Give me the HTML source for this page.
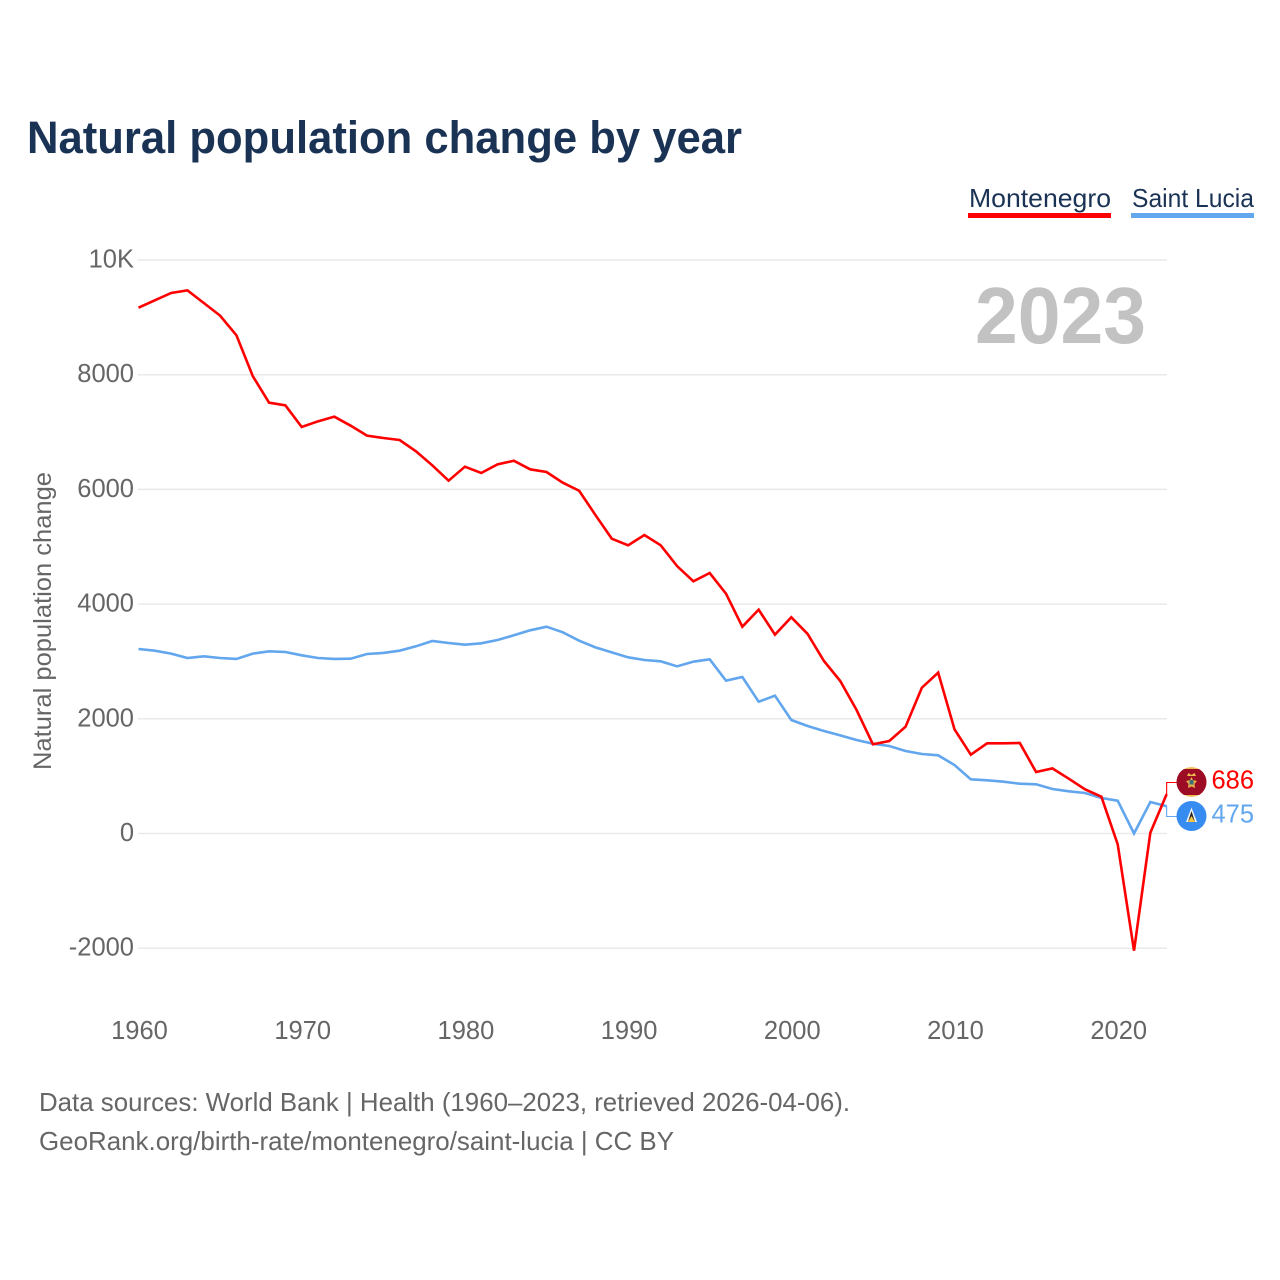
<!DOCTYPE html>
<html lang="en">
<head>
<meta charset="utf-8">
<title>Natural population change by year</title>
<style>
html,body{margin:0;padding:0;background:#fff;}
svg{display:block;font-family:"Liberation Sans",sans-serif;}
</style>
</head>
<body>
<svg id="chart" xmlns="http://www.w3.org/2000/svg" width="1280" height="1280" viewBox="0 0 1280 1280">
  <rect x="0" y="0" width="1280" height="1280" fill="#ffffff"/>
  <text x="27" y="153" font-size="45" font-weight="700" fill="#1a3355" textLength="715" lengthAdjust="spacingAndGlyphs">Natural population change by year</text>

  <g>
    <text x="969" y="207" font-size="26" fill="#1a3355" textLength="142" lengthAdjust="spacingAndGlyphs">Montenegro</text>
    <rect x="968" y="213" width="143" height="5" fill="#ff0000"/>
  </g>
  <g>
    <text x="1132" y="207" font-size="26" fill="#1a3355" textLength="122" lengthAdjust="spacingAndGlyphs">Saint Lucia</text>
    <rect x="1131" y="213" width="123" height="5" fill="#62a6ee"/>
  </g>

  <g id="grid"></g>
  <g id="y-ticks"></g>
  <g id="x-ticks"></g>

  <text transform="translate(51 621) rotate(-90)" text-anchor="middle" font-size="25" fill="#666666" textLength="298" lengthAdjust="spacingAndGlyphs">Natural population change</text>

  <text x="975" y="343" font-size="80" font-weight="700" fill="#c2c2c2" textLength="171" lengthAdjust="spacingAndGlyphs">2023</text>

  <g id="series"></g>
  <g id="end-labels"></g>

  <defs>
    <clipPath id="clip-me"><circle cx="1191.5" cy="782" r="15"/></clipPath>
  </defs>
  <g clip-path="url(#clip-me)">
    <circle cx="1191.5" cy="782" r="15" fill="#f0bd55"/>
    <rect x="1176" y="769" width="31" height="26" fill="#9c0c24"/>
    <path d="M1187 776 L1188.5 773 L1191.5 775 L1194.5 773 L1196 776 Z" fill="#eeb94f"/>
    <path d="M1191.5 777 L1193 780 L1197 781 L1194.5 784 L1195 788 L1191.5 786.5 L1188 788 L1188.5 784 L1186 781 L1190 780 Z" fill="#e3b04c"/>
    <rect x="1189.5" y="780" width="4" height="4.5" fill="#3d6f78"/>
  </g>
  <g>
    <circle cx="1191.5" cy="816" r="15" fill="#368cf0"/>
    <path d="M1191.5 807.5 L1197 822 L1186 822 Z" fill="#f4f4f4"/>
    <path d="M1191.5 811 L1195 822 L1188 822 Z" fill="#222222"/>
    <path d="M1191.5 816 L1195 822 L1188 822 Z" fill="#f3c53f"/>
  </g>

  <text x="39" y="1111" font-size="26" fill="#666666" textLength="811" lengthAdjust="spacingAndGlyphs">Data sources: World Bank | Health (1960–2023, retrieved 2026-04-06).</text>
  <text x="39" y="1150" font-size="26" fill="#666666" textLength="635" lengthAdjust="spacingAndGlyphs">GeoRank.org/birth-rate/montenegro/saint-lucia | CC BY</text>
</svg>
<script>
var years = [1960,1961,1962,1963,1964,1965,1966,1967,1968,1969,1970,1971,1972,1973,1974,1975,1976,1977,1978,1979,1980,1981,1982,1983,1984,1985,1986,1987,1988,1989,1990,1991,1992,1993,1994,1995,1996,1997,1998,1999,2000,2001,2002,2003,2004,2005,2006,2007,2008,2009,2010,2011,2012,2013,2014,2015,2016,2017,2018,2019,2020,2021,2022,2023];
var montenegro = [9168,9297,9425,9470,9250,9030,8687,7977,7512,7466,7088,7187,7268,7111,6937,6896,6861,6664,6420,6152,6396,6286,6437,6500,6350,6303,6117,5977,5553,5141,5025,5205,5025,4664,4397,4542,4182,3606,3903,3467,3770,3479,3008,2659,2153,1555,1613,1862,2542,2804,1817,1374,1573,1573,1578,1072,1136,956,770,642,-189,-2043,14,686];
var saintLucia = [3217,3188,3137,3060,3089,3060,3043,3137,3177,3165,3107,3060,3043,3048,3130,3148,3188,3264,3357,3322,3293,3316,3374,3456,3543,3606,3508,3362,3246,3159,3072,3025,3002,2915,2996,3037,2665,2729,2298,2403,1979,1875,1787,1712,1630,1566,1526,1439,1386,1363,1194,945,927,903,868,858,776,736,706,619,572,0,549,475];
var yTickValues = [-2000,0,2000,4000,6000,8000,10000];
var yTickLabels = ["-2000","0","2000","4000","6000","8000","10K"];
var xTickYears = [1960,1970,1980,1990,2000,2010,2020];

var NS = "http://www.w3.org/2000/svg";
function xScale(year){ return 138.5 + (year - 1960) * 16.32; }
function yScale(value){ return 833.5 - value * 0.05735; }
function make(tag, attrs, parent, text){
  var el = document.createElementNS(NS, tag);
  for (var k in attrs) { el.setAttribute(k, attrs[k]); }
  if (text !== undefined) { el.textContent = text; }
  parent.appendChild(el);
  return el;
}
var gridGroup = document.getElementById("grid");
var yGroup = document.getElementById("y-ticks");
var xGroup = document.getElementById("x-ticks");
var seriesGroup = document.getElementById("series");
var endGroup = document.getElementById("end-labels");

yTickValues.forEach(function(v, i){
  var line = make("line", {x1:138, x2:1167, y1:yScale(v), y2:yScale(v), stroke:"#e9e9e9", "stroke-width":1.5}, gridGroup);
  
  
  var label = make("text", {x:134, y:yScale(v)+7.5, "text-anchor":"end", "font-size":25.5, fill:"#666666"}, yGroup, yTickLabels[i]);
  
  
});
xTickYears.forEach(function(year){
  var label = make("text", {x:xScale(year)+1, y:1039, "text-anchor":"middle", "font-size":25.5, fill:"#666666"}, xGroup, String(year));
  
  
});

function pointsFor(values){
  return values.map(function(v, i){ return xScale(years[i]).toFixed(2) + "," + yScale(v).toFixed(2); }).join(" ");
}
var blueLine = make("polyline", {points:pointsFor(saintLucia), fill:"none", stroke:"#62a6ee", "stroke-width":2.6, "stroke-linejoin":"miter"}, seriesGroup);


var redLine = make("polyline", {points:pointsFor(montenegro), fill:"none", stroke:"#ff0000", "stroke-width":2.6, "stroke-linejoin":"miter"}, seriesGroup);



var lastYearX = xScale(years[years.length-1]);
var lastRed = montenegro[montenegro.length-1];
var lastBlue = saintLucia[saintLucia.length-1];
var redConn = make("polyline", {points:lastYearX+","+yScale(lastRed)+" "+lastYearX+",782.5 1177,782.5", fill:"none", stroke:"#ff0000", "stroke-width":1.1}, endGroup);


var blueConn = make("polyline", {points:lastYearX+","+yScale(lastBlue)+" "+lastYearX+",816.5 1177,816.5", fill:"none", stroke:"#62a6ee", "stroke-width":1.1}, endGroup);


var redVal = make("text", {x:1254, y:788.5, "text-anchor":"end", "font-size":25.5, fill:"#ff0000"}, endGroup, String(lastRed));


var blueVal = make("text", {x:1254, y:822.5, "text-anchor":"end", "font-size":25.5, fill:"#62a6ee"}, endGroup, String(lastBlue));


</script>
</body>
</html>
